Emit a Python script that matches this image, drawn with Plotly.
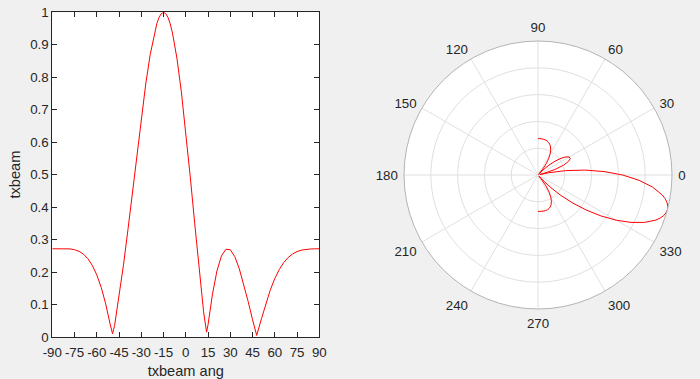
import plotly.graph_objects as go

# Beam angle (degrees) and normalized transmit beam amplitude
angles = [-90, -87, -84, -81, -78, -75, -72, -69, -66, -63, -60, -57, -54, -51, -49.4, -48,
          -45, -42, -39, -36, -33, -30, -27, -24, -21, -19.5, -18, -16.5, -15, -13.5, -12,
          -10.5, -9, -6, -3, 0, 3, 6, 9, 12, 14, 15, 18, 21, 24, 27, 30, 33, 36, 39, 42, 45,
          47.8, 51, 54, 57, 60, 63, 66, 69, 72, 75, 78, 81, 84, 87, 90]
txbeam = [0.2718, 0.2719, 0.2721, 0.2721, 0.2713, 0.2689, 0.2639, 0.2552, 0.2411, 0.2202,
          0.1912, 0.1522, 0.1020, 0.0395, 0.010, 0.0356, 0.1233, 0.2222, 0.3305, 0.4451,
          0.5615, 0.6750, 0.7797, 0.8699, 0.9399, 0.9657, 0.9845, 0.996, 1.0, 0.996, 0.9841,
          0.9642, 0.9365, 0.8590, 0.7553, 0.6311, 0.4935, 0.3503, 0.2090, 0.0775, 0.015,
          0.0381, 0.1328, 0.2035, 0.2493, 0.2702, 0.2687, 0.2477, 0.2115, 0.1641, 0.1100,
          0.0532, 0.005, 0.0561, 0.1040, 0.1454, 0.1801, 0.2077, 0.2291, 0.2449, 0.2558,
          0.2631, 0.2675, 0.2700, 0.2711, 0.2715, 0.2717]

x_ticks = [-90, -75, -60, -45, -30, -15, 0, 15, 30, 45, 60, 75, 90]
x_tick_labels = ["-90", "-75", "-60", "-45", "-30", "-15", "0", "15", "30", "45", "60", "75", "90"]
y_ticks = [0, 0.1, 0.2, 0.3, 0.4, 0.5, 0.6, 0.7, 0.8, 0.9, 1]
y_tick_labels = ["0", "0.1", "0.2", "0.3", "0.4", "0.5", "0.6", "0.7", "0.8", "0.9", "1"]
polar_ticks = [0, 30, 60, 90, 120, 150, 180, 210, 240, 270, 300, 330]
polar_tick_labels = ["0", "30", "60", "90", "120", "150", "180", "210", "240", "270", "300", "330"]
x_title = "txbeam ang"
y_title = "txbeam"

TXT = "#262626"
FONT = "Liberation Sans, Arial, sans-serif"
TICK_SIZE = 13.3
TITLE_SIZE = 14.6

fig = go.Figure()
fig.add_trace(go.Scatter(x=angles, y=txbeam, mode="lines",
                         line=dict(color="#ff0000", width=1), showlegend=False,
                         xaxis="x", yaxis="y"))
fig.add_trace(go.Scatterpolar(theta=angles, r=txbeam, mode="lines",
                              line=dict(color="#ff0000", width=1), showlegend=False,
                              subplot="polar"))

axis_common = dict(showline=True, linecolor=TXT, linewidth=1, mirror="ticks",
                   ticks="inside", ticklen=5, tickcolor=TXT, showgrid=False, zeroline=False,
                   tickfont=dict(family=FONT, size=TICK_SIZE, color=TXT))

fig.update_layout(
    width=700, height=379,
    margin=dict(l=0, r=0, t=0, b=0),
    paper_bgcolor="#f0f0f0",
    plot_bgcolor="#ffffff",
    font=dict(family=FONT, size=TICK_SIZE, color=TXT),
    xaxis=dict(domain=[52.3 / 700, 319.3 / 700], range=[-90, 90],
               tickmode="array", tickvals=x_ticks, ticktext=x_tick_labels,
               ticklabelstandoff=3,
               title=dict(text=x_title, font=dict(family=FONT, size=TITLE_SIZE, color=TXT), standoff=6),
               automargin=False, anchor="y", **axis_common),
    yaxis=dict(domain=[(379 - 337) / 379, (379 - 12.3) / 379], range=[0, 1],
               tickmode="array", tickvals=y_ticks, ticktext=y_tick_labels,
               title=dict(text=y_title, font=dict(family=FONT, size=TITLE_SIZE, color=TXT), standoff=6),
               automargin=False, anchor="x", **axis_common),
    polar=dict(
        domain=dict(x=[(538 - 134) / 700, (538 + 134) / 700],
                    y=[(204 - 134) / 379, (204 + 134) / 379]),
        bgcolor="#ffffff",
        angularaxis=dict(rotation=0, direction="counterclockwise",
                         tickmode="array", tickvals=polar_ticks, ticktext=polar_tick_labels,
                         ticks="outside", ticklen=3, tickcolor="rgba(0,0,0,0)",
                         showline=True, linecolor="#b4b4b4", linewidth=1,
                         gridcolor="#e0e0e0", gridwidth=1,
                         tickfont=dict(family=FONT, size=TICK_SIZE, color=TXT)),
        radialaxis=dict(range=[0, 1], dtick=0.2, tick0=0, showticklabels=False,
                        ticks="", showline=False, gridcolor="#e0e0e0", gridwidth=1),
    ),
)

fig.write_html("out.html")
